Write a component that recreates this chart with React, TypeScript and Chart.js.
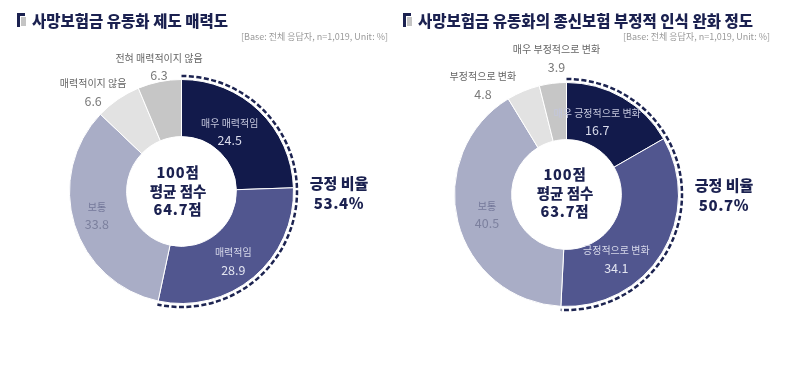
import React, { useEffect, useRef } from "react";
import { Chart, registerables } from "chart.js";

Chart.register(...registerables);

// ---------- data ----------
const leftTitle = "사망보험금 유동화 제도 매력도";
const rightTitle = "사망보험금 유동화의 종신보험 부정적 인식 완화 정도";
const baseNote = "[Base: 전체 응답자, n=1,019, Unit: %]";

const leftCategories = ["매우 매력적임", "매력적임", "보통", "매력적이지 않음", "전혀 매력적이지 않음"];
const leftValues = [24.5, 28.9, 33.8, 6.6, 6.3];
const leftScore = "64.7";
const leftPositive = "53.4";

const rightCategories = ["매우 긍정적으로 변화", "긍정적으로 변화", "보통", "부정적으로 변화", "매우 부정적으로 변화"];
const rightValues = [16.7, 34.1, 40.5, 4.8, 3.9];
const rightScore = "63.7";
const rightPositive = "50.7";

// ---------- styles ----------
const FONT = '"Noto Sans CJK KR", "Noto Sans", sans-serif';
const NAVY = "#1b2150";
const segColors = ["#121a4b", "#51568f", "#a9adc6", "#e2e2e2", "#c6c6c6"];
const nameColors = ["#c3c6dc", "#d6d8ea", "#74789a", "#666666", "#666666"];
const valueColors = ["#dadcec", "#e2e4f0", "#7c809e", "#7a7a7a", "#7a7a7a"];

const leftLabelPos = [
  { frac: 0.44, r: 77 },
  { frac: 0.53, r: 86.5 },
  { frac: 0.51, r: 88 },
  { frac: 0.2, r: 133 },
  { frac: 0.55, r: 127 },
];
const rightLabelPos = [
  { frac: 0.38, r: 79 },
  { frac: 0.67, r: 81.6 },
  { frac: 0.5, r: 82 },
  { frac: -0.35, r: 137.7 },
  { frac: 0.7, r: 137 },
];

type Pos = { frac: number; r: number };

function makePlugin(names: string[], pos: Pos[], positiveCount: number) {
  return {
    id: "donutDecor",
    afterDatasetsDraw(chart: any) {
      const ctx: CanvasRenderingContext2D = chart.ctx;
      const meta = chart.getDatasetMeta(0);
      const data = chart.data.datasets[0].data as number[];
      const arcs = meta.data;
      // dashed outline around positive segments
      const a0 = arcs[0].getProps(["startAngle", "x", "y", "outerRadius"], true);
      const a1 = arcs[positiveCount - 1].getProps(["endAngle"], true);
      ctx.save();
      ctx.beginPath();
      ctx.setLineDash([5, 2.5]);
      ctx.lineWidth = 2.5;
      ctx.strokeStyle = "#1c2350";
      ctx.arc(a0.x, a0.y, a0.outerRadius + 3.5, a0.startAngle, a1.endAngle);
      ctx.stroke();
      ctx.restore();
      // labels
      arcs.forEach((arc: any, i: number) => {
        const p = arc.getProps(["startAngle", "endAngle", "x", "y"], true);
        const th = p.startAngle + pos[i].frac * (p.endAngle - p.startAngle);
        const x = p.x + pos[i].r * Math.cos(th);
        const y = p.y + pos[i].r * Math.sin(th);
        ctx.save();
        ctx.textAlign = "center";
        ctx.textBaseline = "middle";
        ctx.font = `400 10px ${FONT}`;
        ctx.fillStyle = nameColors[i];
        ctx.fillText(names[i], x, y - 8.5);
        ctx.font = `400 12.5px ${FONT}`;
        ctx.fillStyle = valueColors[i];
        ctx.fillText(data[i].toFixed(1), x, y + 9);
        ctx.restore();
      });
    },
  };
}

function Donut(props: {
  left: number;
  names: string[];
  values: number[];
  pos: Pos[];
  padding: { left: number; right: number; top: number; bottom: number };
}) {
  const ref = useRef<HTMLCanvasElement>(null);
  useEffect(() => {
    if (!ref.current) return;
    const chart = new Chart(ref.current, {
      type: "doughnut",
      data: {
        labels: props.names,
        datasets: [
          {
            data: props.values,
            backgroundColor: segColors,
            borderColor: "#ffffff",
            borderWidth: 1,
          },
        ],
      },
      options: {
        responsive: false,
        animation: false,
        cutout: "49%",
        layout: { padding: props.padding },
        plugins: { legend: { display: false }, tooltip: { enabled: false } },
      },
      plugins: [makePlugin(props.names, props.pos, 2)],
    } as any);
    return () => chart.destroy();
  }, []);
  return (
    <canvas
      ref={ref}
      width={395}
      height={366}
      style={{ position: "absolute", left: props.left, top: 0, width: 395, height: 366 }}
    />
  );
}

function Icon({ left }: { left: number }) {
  return (
    <>
      <div style={{ position: "absolute", left: left, top: 13, width: 3, height: 14, background: NAVY }} />
      <div style={{ position: "absolute", left: left, top: 13, width: 8, height: 3, background: NAVY }} />
      <div style={{ position: "absolute", left: left + 4, top: 17, width: 5, height: 9, background: "#c4c4c4" }} />
    </>
  );
}

const abs = (s: React.CSSProperties): React.CSSProperties => ({ position: "absolute", fontFamily: FONT, ...s });

function Panel(p: { title: string; titleLeft: number; baseRight: number; score: string; scoreX: number; scoreY: number; positive: string; posX: number; posY: number }) {
  return (
    <>
      <Icon left={p.titleLeft - 15} />
      <div style={abs({ left: p.titleLeft, top: 11, fontSize: 15.5, fontWeight: 900, color: NAVY, lineHeight: "18px", whiteSpace: "nowrap" })}>{p.title}</div>
      <div style={abs({ left: p.baseRight - 220, width: 220, top: 31, fontSize: 9, color: "#9a9a9a", textAlign: "right", lineHeight: "12px", whiteSpace: "nowrap" })}>{baseNote}</div>
      <div style={abs({ left: p.scoreX - 50, width: 100, top: p.scoreY, fontSize: 14.5, fontWeight: 900, color: NAVY, textAlign: "center", lineHeight: "18.5px" })}>
        <div style={{ letterSpacing: 0.8 }}>100점</div>
        <div>평균 점수</div>
        <div style={{ letterSpacing: 0.8 }}>{p.score}점</div>
      </div>
      <div style={abs({ left: p.posX - 50, width: 100, top: p.posY, fontSize: 15, fontWeight: 900, color: NAVY, textAlign: "center", lineHeight: "19.5px" })}>
        <div>긍정 비율</div>
        <div style={{ letterSpacing: 0.6 }}>{p.positive}%</div>
      </div>
    </>
  );
}

export default function App() {
  return (
    <div style={{ position: "fixed", left: 0, top: 0, width: 790, height: 366, background: "#fff", overflow: "hidden" }}>
      <Donut left={0} names={leftCategories} values={leftValues} pos={leftLabelPos}
        padding={{ left: 69, right: 101, top: 79, bottom: 62 }} />
      <Donut left={395} names={rightCategories} values={rightValues} pos={rightLabelPos}
        padding={{ left: 59, right: 111, top: 82, bottom: 59 }} />
      <Panel title={leftTitle} titleLeft={32} baseRight={388} score={leftScore} scoreX={178} scoreY={163}
        positive={leftPositive} posX={339} posY={173} />
      <Panel title={rightTitle} titleLeft={418} baseRight={770} score={rightScore} scoreX={565} scoreY={165}
        positive={rightPositive} posX={724} posY={175} />
    </div>
  );
}
